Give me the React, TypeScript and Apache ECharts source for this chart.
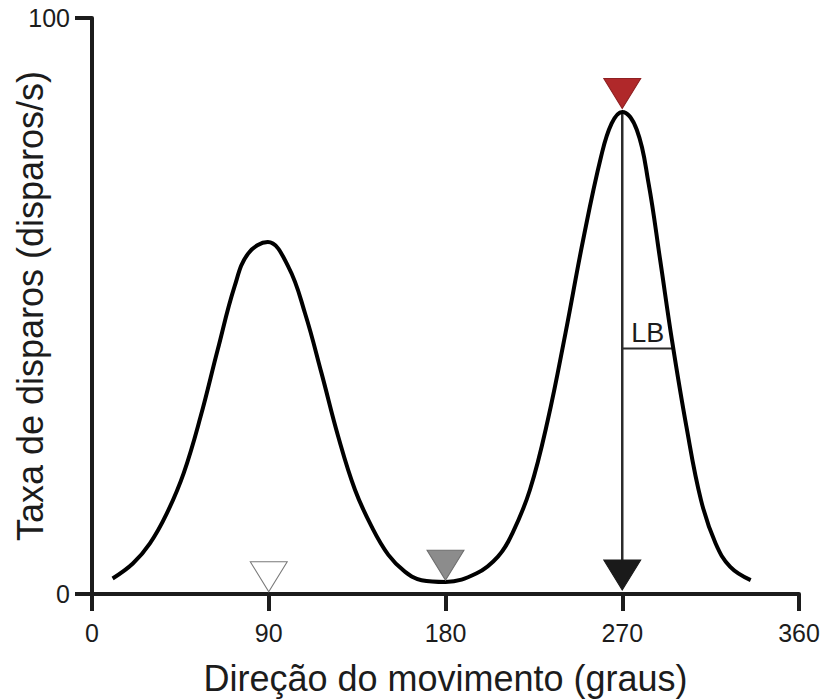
import React, { useEffect, useRef } from "react";
import * as echarts from "echarts";

// Tuning curve: firing rate against movement direction
const curveDeg = [10.5, 20.8, 29.5, 38.1, 46.7, 55.3, 64.0, 72.6, 79.5, 89.5, 100.0, 108.5, 116.9, 125.4, 133.9, 142.4, 150.9, 159.3, 167.8, 180.0, 195.9, 206.7, 214.0, 223.0, 232.1, 241.1, 250.1, 259.2, 264.6, 270, 277.4, 283.4, 289.3, 295.3, 302.7, 310.1, 317.5, 325.0, 335.4];
const curveRate = [2.7, 5.3, 8.8, 14.0, 21.0, 30.8, 42.4, 53.4, 59.1, 61.1, 56.8, 48.7, 38.3, 27.3, 18.1, 11.7, 6.8, 3.9, 2.4, 2.1, 3.6, 6.5, 10.5, 18.1, 30.2, 45.3, 61.5, 75.9, 81.7, 83.7, 80.6, 71.3, 58.0, 44.1, 29.0, 16.3, 8.8, 4.7, 2.4];

// Direction markers (downward triangles): [direction, rate at the tip]
const markerWhite = [90, 0.4];
const markerGray = [180, 2.4];
const markerBlack = [270, 0.7];
const markerRed = [270, 84.3];

// Preferred-direction arrow and half-bandwidth (LB) bar
const arrowDeg = [270, 270];
const arrowRate = [83.7, 3];
const lbDeg = [270, 296];
const lbRate = [42.6, 42.6];
const lbLabelPoint = [283, 42.6];

const xMin = 0;
const xMax = 360;
const xStep = 90;
const yMin = 0;
const yMax = 100;
const yStep = 100;

const FONT = "'Liberation Sans', Arial, Helvetica, sans-serif";
const INK = "#1c1c1c";

const zip = (a: number[], b: number[]) => a.map((v, i) => [v, b[i]]);

export default function App() {
  const ref = useRef<HTMLDivElement>(null);

  useEffect(() => {
    if (!ref.current) return;
    document.body.style.margin = "0";
    const chart = echarts.init(ref.current, undefined, { renderer: "svg" });

    const tri = (pt: number[], fill: string, stroke: string) => ({
      type: "scatter",
      data: [pt],
      symbol: "triangle",
      symbolRotate: 180,
      symbolSize: [37, 30],
      symbolOffset: [0, -15],
      itemStyle: { color: fill, borderColor: stroke, borderWidth: 1, opacity: 1 },
      z: 5,
      silent: true,
    });

    chart.setOption({
      animation: false,
      backgroundColor: "#ffffff",
      grid: {
        left: 92,
        top: 18,
        width: 707,
        height: 576,
        containLabel: false,
        outerBoundsMode: "none",
      },
      xAxis: {
        type: "value",
        min: xMin,
        max: xMax,
        interval: xStep,
        name: "Direção do movimento (graus)",
        nameLocation: "middle",
        nameGap: 66,
        nameMoveOverlap: false,
        nameTextStyle: { fontFamily: FONT, fontSize: 36, color: INK },
        axisLine: { show: true, onZero: false, lineStyle: { color: INK, width: 4 } },
        axisTick: { show: true, inside: false, length: 17, lineStyle: { color: INK, width: 4 } },
        axisLabel: { fontFamily: FONT, fontSize: 25, color: INK, margin: 26 },
        splitLine: { show: false },
      },
      yAxis: {
        type: "value",
        min: yMin,
        max: yMax,
        interval: yStep,
        name: "Taxa de disparos (disparos/s)",
        nameLocation: "middle",
        nameGap: 44,
        nameMoveOverlap: false,
        nameTextStyle: { fontFamily: FONT, fontSize: 36, color: INK },
        axisLine: { show: true, lineStyle: { color: INK, width: 4 } },
        axisTick: { show: true, inside: false, length: 17, lineStyle: { color: INK, width: 4 } },
        axisLabel: { fontFamily: FONT, fontSize: 25, color: INK, margin: 22 },
        splitLine: { show: false },
      },
      series: [
        {
          type: "line",
          data: zip(arrowDeg, arrowRate),
          symbol: "none",
          lineStyle: { color: "#2b2b2b", width: 2.5 },
          z: 2,
          silent: true,
        },
        {
          type: "line",
          data: zip(lbDeg, lbRate),
          symbol: "none",
          lineStyle: { color: "#2b2b2b", width: 2 },
          z: 2,
          silent: true,
        },
        {
          type: "scatter",
          data: [lbLabelPoint],
          symbolSize: 0,
          itemStyle: { opacity: 1 },
          label: {
            show: true,
            formatter: "LB",
            position: "top",
            distance: 2,
            fontFamily: FONT,
            fontSize: 27,
            color: INK,
          },
          silent: true,
        },
        {
          type: "line",
          data: zip(curveDeg, curveRate),
          symbol: "none",
          smooth: 0.4,
          lineStyle: { color: "#000000", width: 4 },
          z: 3,
          silent: true,
        },
        tri(markerWhite, "#ffffff", "#7a7a7a"),
        tri(markerGray, "#8c8c8c", "#6e6e6e"),
        tri(markerBlack, "#1a1a1a", "#1a1a1a"),
        tri(markerRed, "#b0282a", "#8f2022"),
      ],
    });

    return () => chart.dispose();
  }, []);

  return <div ref={ref} style={{ width: 837, height: 699 }} />;
}
